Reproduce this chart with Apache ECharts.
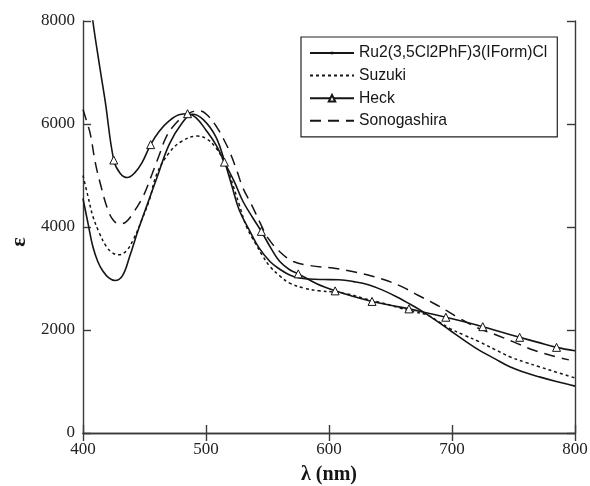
<!DOCTYPE html>
<html>
<head>
<meta charset="utf-8">
<script src="https://cdn.jsdelivr.net/npm/echarts@6/dist/echarts.min.js"></script>
<style>html,body{margin:0;padding:0;background:#fff;}#chart{width:590px;height:486px;}</style>
</head>
<body>
<div id="chart"></div>
<script>
// ---- data ----
var xTicks = [400, 500, 600, 700, 800];
var yTicks = [0, 2000, 4000, 6000, 8000];

var ru2Lambda = [400,404,408,412,416,421,426,432,438,445,452,460,470,480,489,498,508,515,521,527,535,543,552,560,568,576,584,596,608,620,632,645,657,666,674,686,698,710,722,735,747,760,771,785,800];
var ru2Eps    = [4550,4080,3620,3330,3150,3010,2960,3050,3430,3950,4420,4950,5600,6000,6190,6080,5750,5280,4800,4330,3950,3600,3330,3180,3070,3010,2990,2980,2975,2940,2880,2760,2620,2500,2390,2200,2000,1800,1610,1440,1286,1170,1090,1000,910];

var suzukiLambda = [400,404,408,413,419,424,429,435,441,448,454,460,470,480,493,500,508,514,519,527,533,540,546,552,560,568,580,592,603,617,630,644,657,668,680,690,698,710,722,735,747,760,771,785,800];
var suzukiEps    = [5000,4600,4210,3900,3620,3500,3460,3530,3760,4150,4530,5030,5440,5660,5766,5720,5540,5300,5020,4435,4000,3690,3440,3233,3050,2910,2810,2760,2740,2690,2600,2520,2430,2360,2290,2150,2033,1900,1773,1620,1481,1370,1286,1180,1070];

var heckLambda = [400,404,408,413,418,425,430,436,442,448,455,462,470,478,485,492,500,508,515,523,530,538,545,553,560,568,575,590,605,620,635,650,665,680,695,710,725,740,755,770,785,800];
var heckEps    = [9600,8800,8000,7200,6450,5300,5050,4960,5050,5250,5600,5860,6060,6180,6200,6120,5880,5600,5260,4880,4500,4180,3915,3580,3330,3170,3090,2900,2760,2650,2555,2480,2410,2330,2248,2160,2065,1960,1858,1760,1663,1597];
var heckMarkers = [425,455,485,515,545,575,605,635,665,695,725,755,785];

var sonoLambda = [400,403,406,410,414,420,425,430,435,441,449,456,462,468,475,482,488,495,502,509,514,519,525,530,537,544,550,560,571,585,603,620,636,648,660,672,685,696,706,720,736,750,766,780,795];
var sonoEps    = [6280,6050,5800,5250,4850,4350,4120,4060,4100,4280,4600,5020,5400,5766,6000,6150,6230,6253,6150,5930,5720,5474,5100,4760,4435,4080,3800,3520,3331,3250,3202,3130,3039,2950,2832,2680,2520,2370,2228,2050,1903,1770,1611,1510,1420];

var seriesNames = ['Ru2(3,5Cl2PhF)3(IForm)Cl', 'Suzuki', 'Heck', 'Sonogashira'];
var xName = 'λ (nm)';
var yName = 'ε';

// ---- build ----
function pairs(xs, ys, markers) {
  return xs.map(function (x, i) {
    var item = { value: [x, ys[i]] };
    if (!markers || markers.indexOf(x) < 0) item.symbol = 'none';
    return item;
  });
}

var ink = '#151515';
var serif = '"Liberation Serif","Times New Roman",serif';
var sans = '"Liberation Sans",Arial,sans-serif';
var clear = 'rgba(0,0,0,0)';

var chart = echarts.init(document.getElementById('chart'), null, { renderer: 'canvas' });

var axisLine = { show: true, lineStyle: { color: '#3a3a3a', width: 1.4 } };
var axisTick = { show: true, inside: true, length: 8, lineStyle: { color: '#3a3a3a', width: 1.4 } };

chart.setOption({
  animation: false,
  backgroundColor: '#fff',
  grid: { left: 83, right: 15, top: 21, bottom: 53, containLabel: false, outerBoundsMode: 'none' },
  legend: {
    orient: 'vertical',
    left: 301, top: 37,
    padding: [8, 10, 8, 8],
    itemGap: 6.6,
    itemWidth: 44, itemHeight: 8,
    borderColor: '#222', borderWidth: 1.2,
    backgroundColor: '#fff',
    textStyle: { fontFamily: sans, fontSize: 15.7, lineHeight: 14, color: ink },
    data: [
      { name: seriesNames[0] },
      { name: seriesNames[1], itemStyle: { color: clear, borderColor: clear, borderWidth: 0 } },
      { name: seriesNames[2] },
      { name: seriesNames[3], itemStyle: { color: clear, borderColor: clear, borderWidth: 0 } }
    ]
  },
  xAxis: [{
    type: 'value', min: 400, max: 800, interval: 100,
    axisLine: axisLine, axisTick: axisTick, splitLine: { show: false },
    axisLabel: { fontFamily: serif, fontSize: 17, color: '#222', margin: 8,
      formatter: function (v) { return xTicks.indexOf(v) >= 0 ? String(v) : ''; } },
    name: xName, nameLocation: 'middle', nameGap: 32,
    nameTextStyle: { fontFamily: serif, fontSize: 20, fontWeight: 'bold', color: ink }
  }, {
    type: 'value', min: 400, max: 800, interval: 100, position: 'top',
    axisLine: axisLine, axisTick: axisTick, axisLabel: { show: false }, splitLine: { show: false }
  }],
  yAxis: [{
    type: 'value', min: 0, max: 8000, interval: 2000,
    axisLine: axisLine, axisTick: axisTick, splitLine: { show: false },
    axisLabel: { fontFamily: serif, fontSize: 17, color: '#222', margin: 8,
      formatter: function (v) { return yTicks.indexOf(v) >= 0 ? String(v) : ''; } },
    name: yName, nameLocation: 'middle', nameGap: 46, nameRotate: 90,
    nameTextStyle: { fontFamily: serif, fontSize: 22, fontWeight: 'bold', color: ink, padding: [0, 0, 0, -30] }
  }, {
    type: 'value', min: 0, max: 8000, interval: 2000, position: 'right',
    axisLine: axisLine, axisTick: axisTick, axisLabel: { show: false }, splitLine: { show: false }
  }],
  series: [{
    name: seriesNames[0], type: 'line', smooth: 0.4, clip: true,
    symbol: 'path://M0 0M12 12M3.6 3.6h4.8v4.8h-4.8z', symbolKeepAspect: true,
    symbolSize: 3, showSymbol: true, showAllSymbol: true,
    itemStyle: { color: ink },
    lineStyle: { color: ink, width: 1.6, type: 'solid' },
    data: pairs(ru2Lambda, ru2Eps, null)
  }, {
    name: seriesNames[1], type: 'line', smooth: 0.4, clip: true,
    symbol: 'none',
    itemStyle: { color: ink },
    lineStyle: { color: ink, width: 1.5, type: [3, 3] },
    data: pairs(suzukiLambda, suzukiEps, []).map(function (d) { return d.value; })
  }, {
    name: seriesNames[2], type: 'line', smooth: 0.4, clip: true,
    symbol: 'triangle', symbolSize: 8, showSymbol: true, showAllSymbol: true,
    itemStyle: { color: '#fff', borderColor: ink, borderWidth: 1 },
    lineStyle: { color: ink, width: 1.6, type: 'solid' },
    data: pairs(heckLambda, heckEps, heckMarkers)
  }, {
    name: seriesNames[3], type: 'line', smooth: 0.4, clip: true,
    symbol: 'none',
    itemStyle: { color: ink },
    lineStyle: { color: ink, width: 1.5, type: [11, 7] },
    data: pairs(sonoLambda, sonoEps, []).map(function (d) { return d.value; })
  }]
});
</script>
</body>
</html>
